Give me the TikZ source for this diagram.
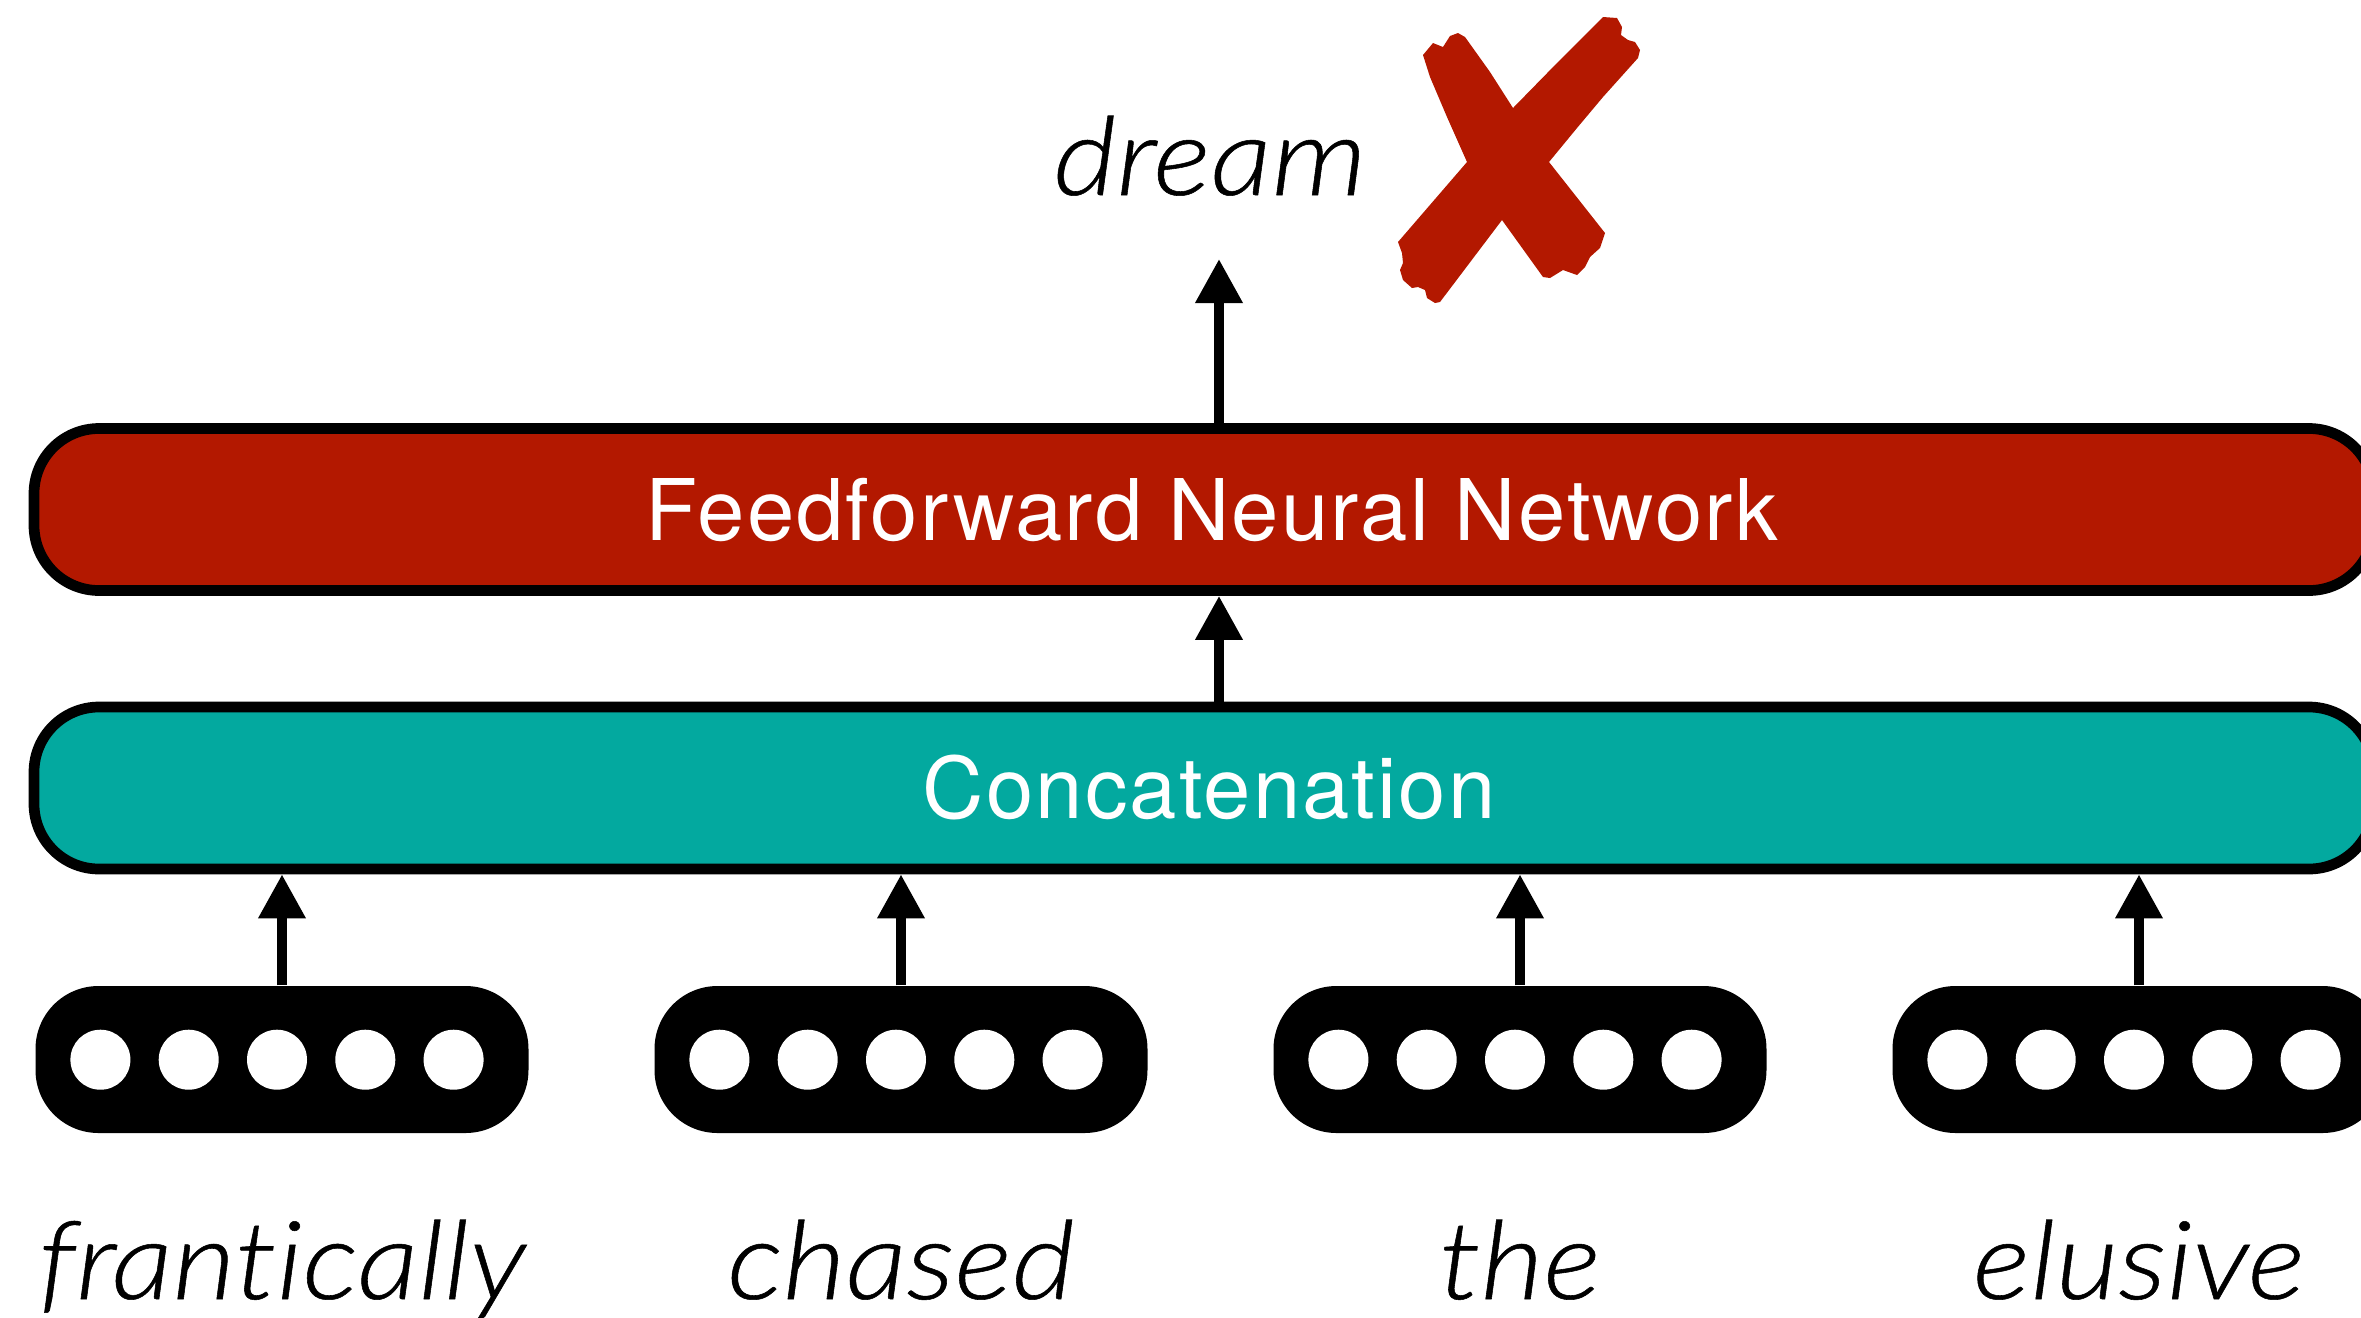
\documentclass[tikz,border=0pt]{standalone}
\usepackage{fontspec}
\usetikzlibrary{arrows.meta}
\newfontfamily\barfont[LetterSpace=2.5]{TeX Gyre Heros}
\newfontfamily\wordfont{Lato Light Italic}[FakeStretch=1.12, FakeBold=0.5, Ligatures=NoCommon]
\definecolor{ffred}{RGB}{179,24,0}
\definecolor{concatteal}{RGB}{3,169,159}

\begin{document}
\begin{tikzpicture}[x=0.1mm,y=-0.1mm,
  layer/.style={draw=black, line width=1.07mm, rounded corners=6.5mm,
    minimum width=234mm, minimum height=16.2mm, inner sep=0},
  barlabel/.style={text=white, font=\barfont\fontsize{24.2pt}{29pt}\selectfont,
    inner sep=0, anchor=base},
  vecbox/.style={fill=black, rounded corners=6.3mm, minimum width=49.3mm,
    minimum height=14.7mm, inner sep=0},
  unit/.style={circle, fill=white, minimum size=6mm, inner sep=0},
  word/.style={font=\wordfont\fontsize{31pt}{36pt}\selectfont,
    anchor=base, inner sep=0},
  arr/.style={line width=1mm, -{Triangle[width=4.5mm,length=4.4mm]}}
]
\useasboundingbox (0,0) rectangle (2361,1317);
\clip (0,0) rectangle (2361,1317);

% the two layers
\node[layer, fill=ffred] (ffn) at (1204,509.5) {};
\node[layer, fill=concatteal] (concat) at (1204,788) {};
\node[barlabel] (ffnlabel) at (1212,540) {Feedforward Neural Network};
\node[barlabel] (concatlabel) at (1209,818.5) {Concatenation};

% word vectors with their units and words
\foreach \i/\cx/\w in {1/282/frantically, 2/901/chased, 3/1520/the, 4/2139/elusive} {
  \node[vecbox] (v\i) at (\cx,1059.5) {};
  \foreach \k in {-2,...,2}
    \node[unit] (v\i u\k) at ({\cx-5+\k*88.3},1059.7) {};
  \node[word] (w\i) at (\cx,1299) {\w};
  \draw[arr] (v\i.north) -- (v\i.north |- concat.south);
}

% concatenation -> network -> prediction
\coordinate (out) at (1219,259);
\draw[arr] (concat.north -| out) -- (ffn.south -| out);
\draw[arr] (ffn.north -| out) -- (out);
\node[word] (dream) at (1210,195) {dream};

% brush-stroke cross next to the prediction
\fill[ffred] (1423,55) -- (1433,43) -- (1443,47) -- (1450,36) -- (1458,33)
  -- (1465,37) -- (1490,72) -- (1513,108) -- (1549,162) -- (1605,233)
  -- (1600,248) -- (1590,257) -- (1585,267) -- (1577,275) -- (1563,270)
  -- (1550,278) -- (1543,277) -- (1502,220) -- (1467,162) -- (1447,117)
  -- (1430,77) -- cycle;
\fill[ffred] (1603,17) -- (1617,18) -- (1622,27) -- (1621,35) -- (1628,40)
  -- (1635,42) -- (1640,50) -- (1638,58) -- (1603,97) -- (1577,128)
  -- (1549,162) -- (1502,220) -- (1440,302) -- (1435,303) -- (1427,298)
  -- (1425,290) -- (1418,287) -- (1412,288) -- (1403,280) -- (1400,270)
  -- (1403,263) -- (1402,253) -- (1398,242) -- (1467,162) -- (1513,108)
  -- (1557,63) -- cycle;
\end{tikzpicture}
\end{document}
